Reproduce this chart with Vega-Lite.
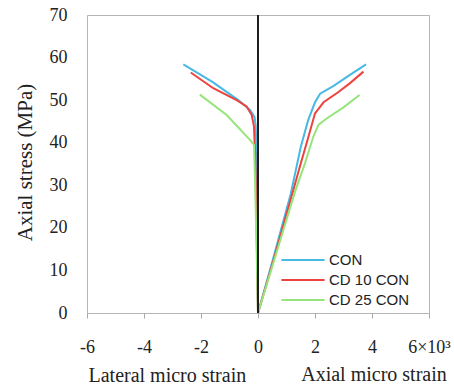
{
  "$schema": "https://vega.github.io/schema/vega-lite/v6.json",
  "width": 342,
  "height": 298,
  "autosize": "none",
  "padding": {"left": 87, "top": 15, "right": 25, "bottom": 76},
  "background": "white",
  "config": {
    "view": {"stroke": "#b5b5b5", "strokeWidth": 1},
    "font": "Liberation Serif",
    "axis": {"labelFont": "Liberation Serif", "titleFont": "Liberation Serif"}
  },
  "datasets": {
    "curves": [
      {"series": "CON", "branch": "lat", "i": 0, "x": 0, "y": 0},
      {"series": "CON", "branch": "lat", "i": 1, "x": -0.03, "y": 25},
      {"series": "CON", "branch": "lat", "i": 2, "x": -0.06, "y": 40},
      {"series": "CON", "branch": "lat", "i": 3, "x": -0.08, "y": 44},
      {"series": "CON", "branch": "lat", "i": 4, "x": -0.12, "y": 46},
      {"series": "CON", "branch": "lat", "i": 5, "x": -0.28, "y": 47.7},
      {"series": "CON", "branch": "lat", "i": 6, "x": -0.69, "y": 50},
      {"series": "CON", "branch": "lat", "i": 7, "x": -1.6, "y": 54.3},
      {"series": "CON", "branch": "lat", "i": 8, "x": -2.62, "y": 58.4},
      {"series": "CON", "branch": "ax", "i": 0, "x": 0, "y": 0},
      {"series": "CON", "branch": "ax", "i": 1, "x": 0.54, "y": 13},
      {"series": "CON", "branch": "ax", "i": 2, "x": 1.15, "y": 28},
      {"series": "CON", "branch": "ax", "i": 3, "x": 1.5, "y": 39},
      {"series": "CON", "branch": "ax", "i": 4, "x": 1.76, "y": 45.3},
      {"series": "CON", "branch": "ax", "i": 5, "x": 2.0, "y": 49.5},
      {"series": "CON", "branch": "ax", "i": 6, "x": 2.18, "y": 51.5},
      {"series": "CON", "branch": "ax", "i": 7, "x": 2.64, "y": 53.3},
      {"series": "CON", "branch": "ax", "i": 8, "x": 3.2, "y": 55.8},
      {"series": "CON", "branch": "ax", "i": 9, "x": 3.79, "y": 58.4},
      {"series": "CD 10 CON", "branch": "lat", "i": 0, "x": 0, "y": 0},
      {"series": "CD 10 CON", "branch": "lat", "i": 1, "x": -0.05, "y": 20},
      {"series": "CD 10 CON", "branch": "lat", "i": 2, "x": -0.1, "y": 38},
      {"series": "CD 10 CON", "branch": "lat", "i": 3, "x": -0.12, "y": 40},
      {"series": "CD 10 CON", "branch": "lat", "i": 4, "x": -0.14, "y": 43.8},
      {"series": "CD 10 CON", "branch": "lat", "i": 5, "x": -0.22, "y": 46.5},
      {"series": "CD 10 CON", "branch": "lat", "i": 6, "x": -0.4, "y": 48.5},
      {"series": "CD 10 CON", "branch": "lat", "i": 7, "x": -0.75, "y": 50},
      {"series": "CD 10 CON", "branch": "lat", "i": 8, "x": -1.57, "y": 52.8},
      {"series": "CD 10 CON", "branch": "lat", "i": 9, "x": -2.36, "y": 56.5},
      {"series": "CD 10 CON", "branch": "ax", "i": 0, "x": 0, "y": 0},
      {"series": "CD 10 CON", "branch": "ax", "i": 1, "x": 0.55, "y": 12.5},
      {"series": "CD 10 CON", "branch": "ax", "i": 2, "x": 1.24, "y": 28.9},
      {"series": "CD 10 CON", "branch": "ax", "i": 3, "x": 1.47, "y": 34.4},
      {"series": "CD 10 CON", "branch": "ax", "i": 4, "x": 1.77, "y": 41.4},
      {"series": "CD 10 CON", "branch": "ax", "i": 5, "x": 2.0, "y": 46.9},
      {"series": "CD 10 CON", "branch": "ax", "i": 6, "x": 2.3, "y": 49.5},
      {"series": "CD 10 CON", "branch": "ax", "i": 7, "x": 2.8, "y": 51.8},
      {"series": "CD 10 CON", "branch": "ax", "i": 8, "x": 3.23, "y": 54},
      {"series": "CD 10 CON", "branch": "ax", "i": 9, "x": 3.7, "y": 56.7},
      {"series": "CD 25 CON", "branch": "lat", "i": 0, "x": 0, "y": 0},
      {"series": "CD 25 CON", "branch": "lat", "i": 1, "x": -0.05, "y": 15},
      {"series": "CD 25 CON", "branch": "lat", "i": 2, "x": -0.1, "y": 30},
      {"series": "CD 25 CON", "branch": "lat", "i": 3, "x": -0.14, "y": 39.5},
      {"series": "CD 25 CON", "branch": "lat", "i": 4, "x": -0.3, "y": 40.8},
      {"series": "CD 25 CON", "branch": "lat", "i": 5, "x": -1.1, "y": 46.5},
      {"series": "CD 25 CON", "branch": "lat", "i": 6, "x": -2.04, "y": 51.3},
      {"series": "CD 25 CON", "branch": "ax", "i": 0, "x": 0, "y": 0},
      {"series": "CD 25 CON", "branch": "ax", "i": 1, "x": 0.55, "y": 12},
      {"series": "CD 25 CON", "branch": "ax", "i": 2, "x": 1.3, "y": 28.5},
      {"series": "CD 25 CON", "branch": "ax", "i": 3, "x": 1.65, "y": 35.2},
      {"series": "CD 25 CON", "branch": "ax", "i": 4, "x": 1.94, "y": 41.4},
      {"series": "CD 25 CON", "branch": "ax", "i": 5, "x": 2.12, "y": 44.2},
      {"series": "CD 25 CON", "branch": "ax", "i": 6, "x": 2.41, "y": 45.7},
      {"series": "CD 25 CON", "branch": "ax", "i": 7, "x": 3.0, "y": 48.3},
      {"series": "CD 25 CON", "branch": "ax", "i": 8, "x": 3.56, "y": 51.2}
    ]
  },
  "layer": [
    {
      "data": {"name": "curves"},
      "mark": {"type": "line", "strokeWidth": 2},
      "encoding": {
        "x": {
          "field": "x", "type": "quantitative",
          "scale": {"domain": [-6, 6], "nice": false, "zero": false},
          "axis": {
            "values": [-6, -4, -2, 0, 2, 4, 6],
            "grid": false,
            "domain": false,
            "tickColor": "#a8a8a8",
            "tickSize": 5,
            "labelPadding": 20,
            "labelFont": "Liberation Serif",
            "labelFontSize": 18,
            "labelColor": "#222222",
            "labelExpr": "datum.value == 6 ? '6×10³' : '' + datum.value",
            "labelFlush": false,
            "title": "Lateral micro strain",
            "titleFont": "Liberation Serif",
            "titleFontSize": 20,
            "titleFontWeight": "normal",
            "titleColor": "#222222",
            "titleAnchor": null,
            "titleAlign": "left",
            "titleBaseline": "alphabetic",
            "titleX": 1,
            "titleY": 68
          }
        },
        "y": {
          "field": "y", "type": "quantitative",
          "scale": {"domain": [0, 70], "nice": false},
          "axis": {
            "values": [0, 10, 20, 30, 40, 50, 60, 70],
            "grid": false,
            "domain": false,
            "ticks": false,
            "labelPadding": 20,
            "labelFont": "Liberation Serif",
            "labelFontSize": 18,
            "labelColor": "#222222",
            "title": "Axial stress (MPa)",
            "titleFont": "Liberation Serif",
            "titleFontSize": 21,
            "titleFontWeight": "normal",
            "titleColor": "#222222",
            "titleAngle": -90,
            "titleAlign": "center",
            "titleBaseline": "middle",
            "titleAnchor": null,
            "titleX": -62,
            "titleY": 147
          }
        },
        "color": {
          "field": "series", "type": "nominal",
          "scale": {"domain": ["CON", "CD 10 CON", "CD 25 CON"], "range": ["#48b9e3", "#ec4340", "#96e57a"]},
          "legend": {
            "orient": "none",
            "legendX": 206,
            "legendY": 235,
            "title": null,
            "symbolType": "M-2.4,0H2.4",
            "symbolSize": 324,
            "symbolStrokeWidth": 2,
            "labelOffset": 16,
            "labelFont": "Liberation Sans",
            "labelFontSize": 15,
            "labelColor": "#222222",
            "rowPadding": 2,
            "padding": 0
          }
        },
        "detail": {"field": "branch"},
        "order": {"field": "i", "type": "quantitative"}
      }
    },
    {
      "data": {"values": [{"x": 0}]},
      "mark": {"type": "rule", "color": "#1e1e1e", "strokeWidth": 2},
      "encoding": {"x": {"field": "x", "type": "quantitative"}}
    },
    {
      "data": {"values": [{"x": 4.07, "y": 0, "label": "Axial micro strain"}]},
      "mark": {"type": "text", "font": "Liberation Serif", "fontSize": 20, "color": "#222222", "align": "center", "baseline": "alphabetic", "dy": 68},
      "encoding": {
        "x": {"field": "x", "type": "quantitative"},
        "y": {"field": "y", "type": "quantitative"},
        "text": {"field": "label"}
      }
    }
  ]
}
